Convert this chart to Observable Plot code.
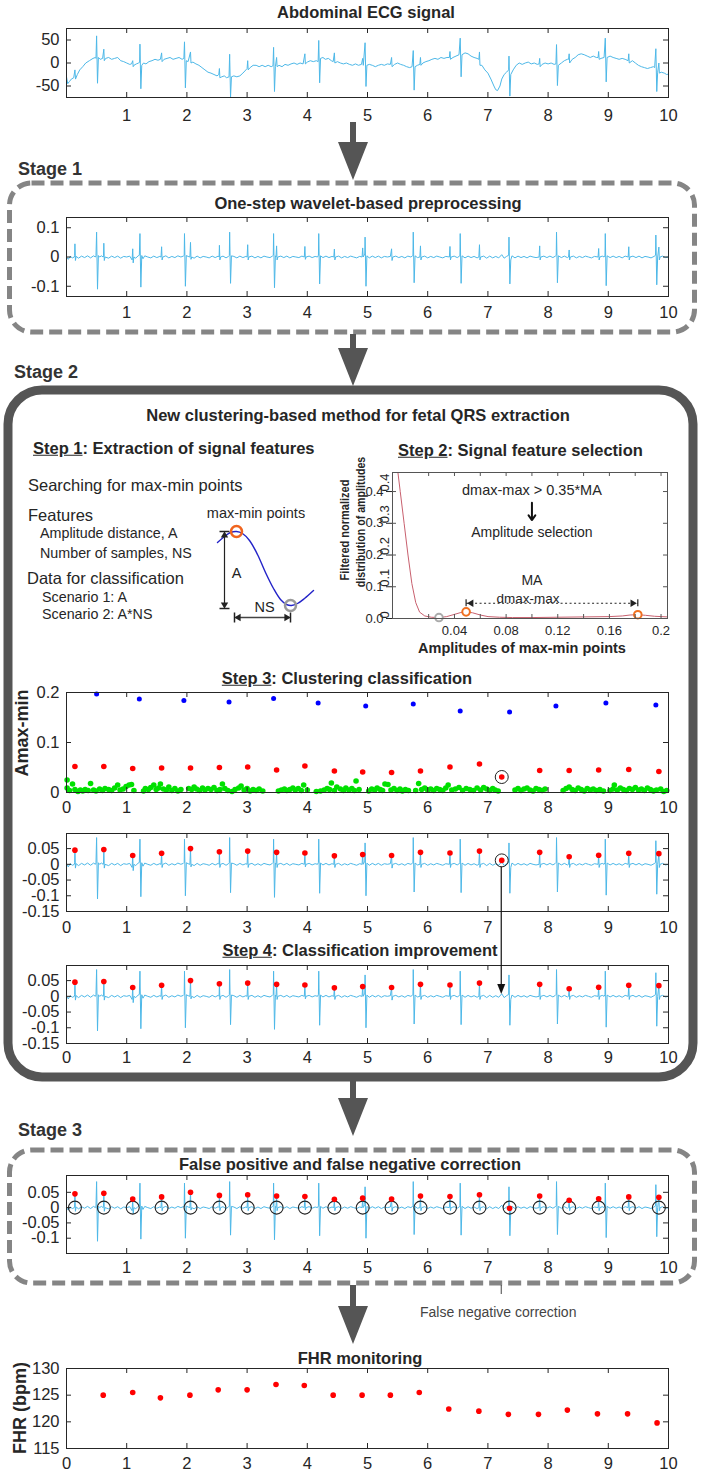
<!DOCTYPE html>
<html><head><meta charset="utf-8">
<script src="https://cdn.jsdelivr.net/npm/d3@7"></script>
<script src="https://cdn.jsdelivr.net/npm/@observablehq/plot@0.6"></script>
<style>
body{margin:0;background:#fff;}
#fig{position:relative;width:701px;height:1479px;background:#fff;font-family:"Liberation Sans",Arial,Helvetica,sans-serif;color:#262626;overflow:hidden;}
.lbl{position:absolute;white-space:nowrap;line-height:1;}
.pl{position:absolute;left:0;}
</style></head><body><div id="fig"></div>
<script>
// ---------------- DATA ----------------
const xTicks0to10 = [0,1,2,3,4,5,6,7,8,9,10];
const xLabels1to10 = [1,2,3,4,5,6,7,8,9,10];
const abdYTicks = [-50,0,50];
const stage1YTicks = [-0.1,0,0.1];
const midYTicks = [-0.15,-0.1,-0.05,0,0.05];
const stage3YTicks = [-0.1,-0.05,0,0.05];
const step3YTicks = [0,0.1,0.2];
const fhrYTicks = [115,120,125,130];
const step2XLabels = [0.04,0.08,0.12,0.16,0.2];
const step2XTicks = [0.02,0.04,0.06,0.08,0.1,0.12,0.14,0.16,0.18,0.2];
const step2YTicks = [0,0.1,0.2,0.3,0.4];

// raw abdominal ECG (time s, amplitude)
const abdominalEcg = [[0,-30],[0.02,-45],[0.05,-40],[0.08,-35],[0.12,-32],[0.14,-15],[0.15,-35],[0.18,-25],[0.22,-15],[0.27,-8],[0.32,0],[0.38,5],[0.44,10],[0.48,12],
[0.49,10],[0.50,59],[0.515,-44],[0.53,12],[0.56,8],[0.6,10],
[0.62,30],[0.628,5],[0.65,10],[0.7,12],[0.75,8],[0.8,10],[0.85,12],[0.9,5],[0.95,3],[1.0,0],[1.05,-3],[1.08,-2],
[1.10,5],[1.108,-8],[1.12,-5],[1.16,-2],[1.2,0],
[1.215,2],[1.22,41],[1.235,-56],[1.25,-5],[1.28,0],[1.32,-2],[1.37,3],[1.42,5],[1.47,8],[1.52,6],[1.56,8],
[1.58,22],[1.588,3],[1.62,8],[1.67,10],[1.72,12],[1.77,8],[1.82,10],[1.87,12],[1.92,8],[1.95,10],
[1.96,46],[1.975,-54],[1.99,5],[2.02,3],
[2.06,24],[2.068,0],[2.1,2],[2.15,-2],[2.2,-5],[2.25,-10],[2.3,-15],[2.35,-20],[2.4,-22],[2.45,-25],[2.5,-28],[2.53,-25],
[2.54,-12],[2.548,-32],[2.58,-30],[2.62,-28],[2.66,-32],[2.7,-30],
[2.71,19],[2.725,-74],[2.74,-30],[2.78,-28],[2.83,-30],[2.88,-28],[2.93,-22],[2.98,-15],[3.0,-12],
[3.01,5],[3.018,-15],[3.05,-10],[3.1,-5],[3.15,-5],[3.2,-8],[3.25,-5],[3.3,-8],[3.35,-5],[3.4,-8],[3.43,-6],
[3.44,34],[3.455,-62],[3.47,-8],
[3.49,12],[3.498,-8],[3.53,-5],[3.58,-8],[3.63,-3],[3.68,-5],[3.73,-2],[3.78,0],[3.83,-3],[3.88,0],[3.93,-2],
[3.96,20],[3.968,-2],[4.0,2],[4.05,5],[4.1,3],[4.15,5],[4.18,3],
[4.19,49],[4.205,-43],[4.22,10],[4.26,12],[4.3,8],[4.35,10],[4.4,5],[4.43,3],
[4.45,22],[4.458,0],[4.5,3],[4.55,0],[4.6,-2],[4.65,0],[4.7,-3],[4.75,-5],[4.8,-2],[4.85,-5],[4.9,-3],
[4.92,10],[4.93,-5],
[4.96,44],[4.975,-51],[4.99,-5],[5.03,-3],[5.08,-5],[5.13,-8],[5.18,-5],[5.23,-3],[5.28,-5],[5.33,-2],[5.38,-3],
[5.40,12],[5.408,-8],[5.45,-3],[5.5,0],[5.55,-3],[5.6,-5],[5.65,-8],[5.7,-10],[5.74,-8],
[5.76,27],[5.775,-59],[5.79,-8],[5.83,-5],[5.87,-3],
[5.88,12],[5.888,-5],[5.92,0],[5.97,3],[6.02,5],[6.07,8],[6.12,10],[6.17,8],[6.22,12],[6.27,10],[6.32,12],[6.36,12],
[6.37,25],[6.378,8],[6.42,12],[6.47,15],[6.52,18],
[6.54,54],[6.555,-30],[6.57,18],[6.62,22],[6.67,20],[6.72,15],[6.77,12],[6.82,10],[6.85,8],
[6.86,24],[6.868,-5],[6.9,-5],[6.95,-15],[7.0,-22],[7.05,-35],[7.1,-50],[7.13,-58],[7.16,-60],[7.2,-50],[7.23,-35],[7.27,-25],[7.31,-20],
[7.345,-15],[7.35,15],[7.365,-72],[7.38,-25],[7.42,-15],[7.47,-5],[7.52,0],[7.57,-3],[7.62,0],[7.67,2],[7.72,-2],[7.77,0],[7.82,-3],[7.85,-2],
[7.86,10],[7.868,-8],[7.9,-3],[7.95,0],[8.0,-2],[8.05,0],[8.1,-3],[8.13,-2],
[8.14,40],[8.155,-49],[8.17,-5],[8.22,0],[8.27,5],[8.32,8],[8.34,8],
[8.35,20],[8.358,0],[8.4,8],[8.45,12],[8.5,18],[8.55,20],[8.6,18],[8.65,15],[8.7,12],[8.75,15],[8.8,12],[8.83,12],
[8.84,25],[8.848,8],[8.88,10],[8.93,12],
[8.95,54],[8.965,-41],[8.98,12],[9.03,15],[9.08,12],[9.13,10],[9.18,8],[9.23,10],[9.28,8],[9.33,5],
[9.34,20],[9.348,0],[9.4,5],[9.45,0],[9.5,-5],[9.55,-8],[9.6,-10],[9.65,-12],[9.7,-10],[9.75,-8],[9.77,-10],
[9.79,31],[9.805,-62],[9.82,-20],
[9.84,0],[9.848,-22],[9.88,-20],[9.93,-22],[9.97,-25],[10.0,-24]];

// preprocessed ECG (time s, amplitude)
const preprocessedEcg = [[0,0.0],[0.03,-0.008],[0.06,0.002],[0.1,-0.003],[0.13,0.0],
[0.135,0.005],[0.14,0.045],[0.148,-0.012],[0.16,0.002],
[0.2,-0.004],[0.25,0.003],[0.3,-0.002],[0.35,0.004],[0.4,-0.003],[0.45,0.004],[0.48,0.0],
[0.49,0.005],[0.50,0.085],[0.515,-0.11],[0.53,0.005],[0.55,0.0],[0.58,0.004],[0.61,0.0],
[0.615,0.004],[0.62,0.047],[0.628,-0.012],[0.64,0.0],
[0.7,-0.004],[0.75,0.003],[0.8,-0.002],[0.85,0.003],[0.9,-0.004],[0.95,0.002],[1.0,0.0],[1.05,0.003],[1.09,-0.01],
[1.10,0.028],[1.108,-0.02],[1.12,0.0],[1.15,-0.004],[1.19,0.004],
[1.21,0.006],[1.22,0.08],[1.235,-0.103],[1.25,0.005],[1.27,-0.006],
[1.3,0.004],[1.35,0.0],[1.4,-0.003],[1.45,0.003],[1.5,-0.002],[1.55,0.002],[1.57,0.0],
[1.58,0.035],[1.588,-0.01],[1.6,0.0],
[1.65,0.004],[1.7,-0.003],[1.75,0.002],[1.8,-0.002],[1.85,0.004],[1.9,0.0],[1.94,0.003],
[1.955,0.006],[1.96,0.08],[1.975,-0.1],[1.99,0.005],[2.02,0.002],[2.05,0.0],
[2.06,0.05],[2.068,-0.008],[2.08,0.0],
[2.12,-0.004],[2.17,0.003],[2.22,-0.003],[2.27,0.002],[2.32,0.0],[2.37,-0.003],[2.42,0.003],[2.47,-0.002],[2.52,0.003],
[2.535,0.0],[2.54,0.04],[2.548,-0.01],[2.56,0.0],[2.6,0.003],[2.65,-0.003],[2.69,0.002],
[2.705,0.005],[2.71,0.085],[2.725,-0.09],[2.74,0.004],
[2.78,0.002],[2.83,-0.003],[2.88,0.003],[2.93,-0.002],[2.98,0.002],[3.0,0.0],
[3.01,0.042],[3.018,-0.01],[3.03,0.0],
[3.08,0.003],[3.13,-0.003],[3.18,0.002],[3.23,-0.003],[3.28,0.003],[3.33,0.0],[3.38,-0.002],[3.42,0.003],
[3.435,0.006],[3.44,0.08],[3.455,-0.105],[3.47,0.004],[3.48,0.0],
[3.49,0.038],[3.498,-0.01],[3.51,0.0],
[3.56,0.003],[3.61,-0.002],[3.66,0.003],[3.71,-0.003],[3.76,0.002],[3.81,0.0],[3.86,-0.002],[3.91,0.003],[3.95,0.0],
[3.96,0.036],[3.968,-0.008],[3.98,0.0],
[4.03,0.003],[4.08,-0.002],[4.13,0.002],[4.17,0.0],
[4.185,0.006],[4.19,0.08],[4.205,-0.092],[4.22,0.004],
[4.26,-0.002],[4.31,0.003],[4.36,-0.002],[4.41,0.002],[4.44,0.0],
[4.45,0.027],[4.458,-0.01],[4.47,0.0],
[4.52,0.003],[4.57,-0.003],[4.62,0.002],[4.67,-0.002],[4.72,0.003],[4.77,0.0],[4.82,-0.003],[4.87,0.002],[4.91,0.0],
[4.92,0.031],[4.928,0.0],
[4.955,0.01],[4.96,0.068],[4.975,-0.1],[4.99,0.004],
[5.03,-0.003],[5.08,0.003],[5.13,-0.002],[5.18,0.003],[5.23,-0.003],[5.28,0.002],[5.33,0.0],[5.38,0.002],
[5.40,0.028],[5.408,-0.012],[5.42,0.0],
[5.47,0.003],[5.52,-0.002],[5.57,0.002],[5.62,-0.003],[5.67,0.003],[5.72,0.0],[5.75,0.004],
[5.755,0.006],[5.76,0.085],[5.775,-0.088],[5.79,0.004],[5.83,-0.002],[5.87,0.0],
[5.88,0.038],[5.888,-0.01],[5.9,0.0],
[5.95,0.003],[6.0,-0.003],[6.05,0.002],[6.1,-0.002],[6.15,0.003],[6.2,0.0],[6.25,-0.003],[6.3,0.002],[6.36,0.0],
[6.37,0.036],[6.378,-0.01],[6.39,0.0],[6.44,0.003],[6.49,-0.002],[6.53,0.003],
[6.535,0.006],[6.54,0.08],[6.555,-0.09],[6.57,0.004],
[6.62,-0.003],[6.67,0.003],[6.72,-0.002],[6.77,0.002],[6.82,-0.003],[6.85,0.0],
[6.86,0.042],[6.868,-0.01],[6.88,0.0],
[6.93,0.003],[6.98,-0.004],[7.03,0.003],[7.08,-0.003],[7.13,0.002],[7.18,-0.003],[7.23,0.008],[7.27,-0.004],[7.31,0.002],
[7.345,0.006],[7.35,0.068],[7.365,-0.092],[7.38,-0.01],[7.40,0.004],
[7.45,-0.003],[7.5,0.003],[7.55,-0.002],[7.6,0.002],[7.65,-0.003],[7.7,0.003],[7.75,0.0],[7.8,-0.002],[7.85,0.0],
[7.86,0.038],[7.868,-0.01],[7.88,0.0],
[7.93,0.003],[7.98,-0.002],[8.03,0.003],[8.08,-0.002],[8.12,0.003],
[8.135,0.006],[8.14,0.085],[8.155,-0.088],[8.17,0.004],
[8.22,-0.002],[8.27,0.003],[8.32,-0.002],[8.34,0.0],
[8.35,0.024],[8.358,-0.01],[8.37,0.0],
[8.42,0.003],[8.47,-0.003],[8.52,0.002],[8.57,-0.002],[8.62,0.003],[8.67,0.0],[8.72,-0.003],[8.77,0.002],[8.83,0.0],
[8.84,0.029],[8.848,-0.01],[8.86,0.0],[8.9,0.003],[8.93,0.0],
[8.945,0.006],[8.95,0.08],[8.965,-0.098],[8.98,0.004],
[9.03,-0.002],[9.08,0.003],[9.13,-0.002],[9.18,0.002],[9.23,-0.003],[9.28,0.003],[9.33,0.0],
[9.34,0.035],[9.348,-0.01],[9.36,0.0],
[9.41,0.003],[9.46,-0.002],[9.51,0.003],[9.56,-0.003],[9.61,0.002],[9.66,0.0],[9.71,-0.003],[9.76,0.002],
[9.785,0.006],[9.79,0.075],[9.805,-0.095],[9.82,0.0],
[9.84,0.034],[9.848,-0.01],[9.86,0.0],[9.9,0.003],[9.95,-0.002],[10.0,0.0]];

// Step 2: filtered normalized distribution of amplitudes
const distCurve = [[-0.005,0.5],[-0.002,0.40],[0.001,0.30],[0.004,0.20],[0.007,0.11],[0.010,0.05],[0.013,0.02],[0.017,0.008],[0.022,0.004],[0.028,0.003],[0.034,0.006],[0.040,0.013],[0.045,0.019],[0.049,0.021],[0.054,0.018],[0.060,0.011],[0.066,0.006],[0.075,0.004],[0.085,0.003],[0.10,0.003],[0.12,0.004],[0.14,0.005],[0.16,0.006],[0.17,0.008],[0.176,0.011],[0.182,0.012],[0.188,0.01],[0.195,0.007],[0.205,0.005]];
const selectedAmps = [[0.049,0.021],[0.182,0.012]];
const rejectedAmps = [[0.028,0.003]];

// Step 3: clustering
const blueT = [0.50,1.21,1.95,2.70,3.44,4.18,4.97,5.76,6.54,7.36,8.13,8.96,9.79];
const blueV = [0.197,0.187,0.184,0.181,0.188,0.179,0.173,0.177,0.163,0.161,0.173,0.179,0.175];
const fetalT = [0.14,0.62,1.10,1.58,2.06,2.54,3.01,3.49,3.96,4.45,4.92,5.40,5.88,6.37,6.86,7.86,8.35,8.84,9.34,9.84];
const step3RedV = [0.052,0.052,0.048,0.049,0.049,0.050,0.051,0.045,0.053,0.043,0.041,0.040,0.043,0.051,0.057,0.044,0.044,0.045,0.046,0.042];
const falseT = 7.23;
const step3FalseV = 0.031;
const greenPts = [[0.01,0.025],[0.01,0.009],[0.05,0.004],[0.10,0.017],[0.14,0.006],[0.19,0.002],[0.23,0.005],[0.27,0.003],[0.31,0.006],[0.36,0.004],[0.40,0.018],[0.45,0.005],[0.49,0.003],[0.55,0.007],[0.60,0.004],[0.64,0.008],[0.70,0.006],[0.75,0.004],[0.80,0.009],[0.85,0.015],[0.89,0.005],[0.94,0.007],[0.99,0.012],[1.04,0.015],[1.08,0.016],[1.12,0.004],
[1.28,0.003],[1.31,0.008],[1.36,0.006],[1.40,0.010],[1.45,0.015],[1.49,0.006],[1.53,0.009],[1.56,0.017],[1.61,0.007],[1.66,0.005],[1.70,0.011],[1.75,0.004],[1.80,0.008],[1.85,0.003],[1.90,0.006],
[2.03,0.008],[2.08,0.006],[2.12,0.011],[2.16,0.007],[2.21,0.004],[2.26,0.009],[2.30,0.005],[2.35,0.008],[2.40,0.006],[2.45,0.010],[2.50,0.004],[2.55,0.006],[2.59,0.017],[2.63,0.008],[2.68,0.004],[2.75,0.002],[2.80,0.006],[2.86,0.009],[2.90,0.013],[2.95,0.005],[3.00,0.008],[3.05,0.003],[3.10,0.006],[3.15,0.004],[3.20,0.007],[3.26,0.003],
[3.52,0.003],[3.57,0.005],[3.62,0.007],[3.66,0.004],[3.71,0.006],[3.76,0.009],[3.80,0.005],[3.85,0.008],[3.90,0.004],[3.94,0.015],[4.00,0.005],
[4.15,0.002],[4.22,0.003],[4.28,0.005],[4.33,0.008],[4.37,0.006],[4.40,0.019],[4.45,0.004],[4.49,0.011],[4.55,0.007],[4.60,0.004],[4.64,0.009],[4.69,0.005],[4.74,0.008],[4.78,0.004],[4.81,0.023],[4.86,0.006],
[5.02,0.003],[5.07,0.007],[5.12,0.005],[5.16,0.009],[5.21,0.006],[5.25,0.004],[5.29,0.017],[5.34,0.016],[5.39,0.005],[5.44,0.008],[5.49,0.004],[5.54,0.007],[5.58,0.003],[5.63,0.006],[5.68,0.004],
[5.80,0.004],[5.85,0.018],[5.90,0.006],[5.95,0.009],[6.00,0.005],[6.05,0.007],[6.10,0.004],[6.15,0.008],[6.20,0.006],[6.25,0.004],[6.30,0.009],[6.34,0.015],[6.40,0.005],[6.46,0.007],[6.52,0.010],[6.58,0.004],[6.64,0.008],[6.70,0.006],[6.76,0.004],[6.82,0.009],[6.88,0.005],[6.93,0.010],[6.98,0.007],[7.03,0.004],[7.08,0.008],[7.12,0.005],[7.17,0.003],
[7.45,0.005],[7.50,0.008],[7.55,0.004],[7.60,0.007],[7.65,0.009],[7.70,0.005],[7.75,0.003],[7.80,0.008],[7.85,0.006],[7.90,0.004],[7.95,0.007],
[8.25,0.004],[8.30,0.008],[8.35,0.011],[8.40,0.006],[8.45,0.004],[8.50,0.009],[8.55,0.006],[8.60,0.003],[8.65,0.008],[8.70,0.005],[8.75,0.007],[8.80,0.004],[8.86,0.006],[8.92,0.003],
[9.03,0.004],[9.08,0.007],[9.10,0.015],[9.15,0.005],[9.20,0.009],[9.25,0.006],[9.30,0.004],[9.35,0.008],[9.40,0.006],[9.45,0.010],[9.50,0.005],[9.55,0.007],[9.60,0.004],[9.65,0.009],[9.70,0.006],[9.75,0.003],[9.80,0.005],[9.87,0.007],[9.92,0.002],[9.97,0.004]];

// detected fetal R peaks on the preprocessed signal
const fetalPeakV = [0.045,0.047,0.028,0.035,0.05,0.04,0.042,0.038,0.036,0.027,0.031,0.028,0.038,0.036,0.042,0.038,0.024,0.029,0.035,0.034];
const midFalseV = 0.0125;
// Stage 3 (false negative recovered at 7.36 s)
const stage3T = [0.14,0.62,1.10,1.58,2.06,2.54,3.01,3.49,3.96,4.45,4.92,5.40,5.88,6.37,6.86,7.36,7.86,8.35,8.84,9.34,9.84];
const stage3V = [0.045,0.047,0.028,0.035,0.05,0.04,0.042,0.038,0.036,0.027,0.031,0.028,0.038,0.036,0.042,-0.002,0.038,0.024,0.029,0.035,0.034];

// FHR
const fhrT = [0.61,1.10,1.56,2.05,2.52,3.00,3.48,3.95,4.43,4.91,5.38,5.86,6.35,6.85,7.34,7.84,8.32,8.82,9.32,9.81];
const fhrV = [125,125.5,124.5,125,126,126,127,126.8,125,125,125,125.5,122.4,122,121.4,121.4,122.2,121.5,121.5,119.8];

// Step 1 schematic (drawing units)
const schemCurve = [[17,27],[24,21],[30,17],[36,16],[42,18],[49,25],[57,39],[65,57],[73,73],[80,84],[86,89],[91,90],[97,88],[104,83],[113,75]];
const schemMax = [[36,16]];
const schemMin = [[90,90]];

// ---------------- HELPERS ----------------
const FONT = '"Liberation Sans", Arial, Helvetica, sans-serif';
const ECG = "#4db8e8";
const AX = "#262626";
const fig = document.getElementById("fig");
const zip = (a, b) => a.map((d, i) => [d, b[i]]);

function place(el, left, top) {
  const w = document.createElement("div");
  w.className = "pl"; w.style.left = left + "px"; w.style.top = top + "px";
  w.appendChild(el); fig.appendChild(w); return el;
}
function label(str, x, y, {size = 16.5, weight = "normal", anchor = "middle", rotate = 0, sx = 1, color = "#262626"} = {}) {
  const d = document.createElement("div");
  d.className = "lbl"; d.innerHTML = str;
  d.style.fontSize = size + "px"; d.style.fontWeight = weight; d.style.color = color;
  d.style.left = x + "px"; d.style.top = y + "px";
  const tx = anchor === "middle" ? "-50%" : anchor === "end" ? "-100%" : "0";
  d.style.transform = `translate(${tx},-50%)` + (rotate ? ` rotate(${rotate}deg)` : "") + (sx !== 1 ? ` scaleX(${sx})` : "");
  if (sx !== 1 && !rotate) d.style.transformOrigin = anchor === "start" ? "left center" : "center";
  fig.appendChild(d); return d;
}
function panel({frameTop, frameH, yDomain, yTicks, xLabels, xTicks = xTicks0to10, marks = [], fontSize = 16.5, xPad = 10, yPad = 7}) {
  const left = 66, right = 668, mt = 6, mb = 36;
  const frameW = right - left;
  const p = Plot.plot({
    width: 701, height: mt + frameH + mb,
    marginTop: mt, marginBottom: mb, marginLeft: left, marginRight: 701 - right,
    style: {fontFamily: FONT, fontSize: fontSize + "px", color: AX, background: "transparent", overflow: "visible"},
    x: {domain: [0, 10]}, y: {domain: yDomain},
    marks: [
      ...marks,
      Plot.frame({stroke: AX, strokeWidth: 1}),
      Plot.tickX(xTicks, {x: d => d, insetTop: frameH - 5, stroke: AX}),
      Plot.tickX(xTicks, {x: d => d, insetBottom: frameH - 5, stroke: AX}),
      Plot.tickY(yTicks, {y: d => d, insetRight: frameW - 5, stroke: AX}),
      Plot.tickY(yTicks, {y: d => d, insetLeft: frameW - 5, stroke: AX}),
      Plot.axisX({ticks: xLabels, tickSize: 0, tickPadding: xPad, tickFormat: d => String(d), label: null, fontSize}),
      Plot.axisY({ticks: yTicks, tickSize: 0, tickPadding: yPad, tickFormat: d => String(d), label: null, fontSize})
    ]
  });
  place(p, 0, frameTop - mt);
  return {plot: p, top: frameTop - mt};
}
const ecgLine = (sig) => Plot.line(sig, {x: d => d[0], y: d => d[1], stroke: ECG, strokeWidth: 1, clip: true});

// ---------------- PANELS ----------------
// Abdominal ECG
panel({frameTop: 28, frameH: 69, yDomain: [-75, 75], yTicks: abdYTicks, xLabels: xLabels1to10, xPad: 12,
  marks: [ecgLine(abdominalEcg)]});
// Stage 1
panel({frameTop: 217, frameH: 79, yDomain: [-0.135, 0.135], yTicks: stage1YTicks, xLabels: xLabels1to10,
  marks: [ecgLine(preprocessedEcg)]});
// Step 3 clustering
const fetalPts = zip(fetalT, step3RedV);
panel({frameTop: 692, frameH: 100, yDomain: [0, 0.2], yTicks: step3YTicks, xLabels: xTicks0to10, xPad: 9,
  marks: [
    Plot.dot(greenPts, {x: d => d[0], y: d => d[1], r: 2.8, fill: "#00e000"}),
    Plot.dot(zip(blueT, blueV), {x: d => d[0], y: d => d[1], r: 2.5, fill: "#0000ff"}),
    Plot.dot(fetalPts, {x: d => d[0], y: d => d[1], r: 2.8, fill: "#ff0000"}),
    Plot.dot([[falseT, step3FalseV]], {x: d => d[0], y: d => d[1], r: 2.8, fill: "#ff0000"}),
    Plot.dot([[falseT, step3FalseV]], {x: d => d[0], y: d => d[1], r: 6.5, stroke: "#222", strokeWidth: 1})
  ]});
// Step 3 signal with detections
const mid = panel({frameTop: 833, frameH: 78, yDomain: [-0.15, 0.098], yTicks: midYTicks, xLabels: xTicks0to10,
  marks: [
    ecgLine(preprocessedEcg),
    Plot.dot(zip(fetalT, fetalPeakV), {x: d => d[0], y: d => d[1], r: 2.8, fill: "#ff0000"}),
    Plot.dot([[falseT, midFalseV]], {x: d => d[0], y: d => d[1], r: 2.8, fill: "#ff0000"}),
    Plot.dot([[falseT, midFalseV]], {x: d => d[0], y: d => d[1], r: 6.5, stroke: "#222", strokeWidth: 1})
  ]});
// Step 4
const step4 = panel({frameTop: 965, frameH: 78, yDomain: [-0.15, 0.098], yTicks: midYTicks, xLabels: xTicks0to10, xPad: 8,
  marks: [
    ecgLine(preprocessedEcg),
    Plot.dot(zip(fetalT, fetalPeakV), {x: d => d[0], y: d => d[1], r: 2.8, fill: "#ff0000"})
  ]});
// Stage 3
panel({frameTop: 1175, frameH: 78, yDomain: [-0.15, 0.105], yTicks: stage3YTicks, xLabels: xLabels1to10, xPad: 8,
  marks: [
    ecgLine(preprocessedEcg),
    Plot.dot(stage3T, {x: d => d, y: () => 0, r: 6.5, stroke: "#222", strokeWidth: 1.1}),
    Plot.dot(zip(stage3T, stage3V), {x: d => d[0], y: d => d[1], r: 2.8, fill: "#ff0000"})
  ]});
// FHR
panel({frameTop: 1368, frameH: 80, yDomain: [115, 130], yTicks: fhrYTicks, xLabels: xTicks0to10, xPad: 9,
  marks: [Plot.dot(zip(fhrT, fhrV), {x: d => d[0], y: d => d[1], r: 2.8, fill: "#ff0000"})]});

// Step 2 distribution plot
{
  const left = 392, right = 667, frameTop = 472, frameH = 146, mt = 4, mb = 40;
  const frameW = right - left;
  const p = Plot.plot({
    width: 701, height: mt + frameH + mb,
    marginTop: mt, marginBottom: mb, marginLeft: left, marginRight: 701 - right,
    style: {fontFamily: FONT, fontSize: "13px", color: AX, background: "transparent", overflow: "visible"},
    x: {domain: [-0.008, 0.205]}, y: {domain: [0, 0.46]},
    marks: [
      Plot.line(distCurve, {x: d => d[0], y: d => d[1], stroke: "#c8606e", strokeWidth: 1, clip: true}),
      Plot.dot(rejectedAmps, {x: d => d[0], y: d => d[1], r: 3.8, stroke: "#aaaaaa", strokeWidth: 2, fill: "white"}),
      Plot.dot(selectedAmps, {x: d => d[0], y: d => d[1], r: 3.8, stroke: "#f07020", strokeWidth: 2, fill: "white"}),
      Plot.text(["dmax-max > 0.35*MA"], {x: 0.1, y: 0.405, text: d => d, fontSize: 14.5}),
      Plot.arrow([[0.1, 0.365, 0.1, 0.31]], {x1: d => d[0], y1: d => d[1], x2: d => d[2], y2: d => d[3], stroke: "#111", strokeWidth: 2, headLength: 10, headAngle: 70}),
      Plot.text(["Amplitude selection"], {x: 0.1, y: 0.27, text: d => d, fontSize: 14}),
      Plot.text(["MA"], {x: 0.1, y: 0.12, text: d => d, fontSize: 14}),
      Plot.text(["dmax-max"], {x: 0.097, y: 0.064, text: d => d, fontSize: 13.5}),
      Plot.link([[0.049, 0.182]], {x1: d => d[0], x2: d => d[1], y1: 0.048, y2: 0.048, stroke: "#222", strokeDasharray: "2 2.5", strokeWidth: 1}),
      Plot.ruleX([0.049, 0.182], {x: d => d, y1: 0.037, y2: 0.059, stroke: "#222", strokeWidth: 1.2}),
      Plot.dot([[0.053, 0.048, -90], [0.178, 0.048, 90]], {x: d => d[0], y: d => d[1], rotate: d => d[2], symbol: "triangle2", r: 3.5, fill: "#222"}),
      Plot.frame({stroke: "#555", strokeWidth: 1}),
      Plot.tickX(step2XTicks, {x: d => d, insetTop: frameH - 4, stroke: "#555"}),
      Plot.tickX(step2XTicks, {x: d => d, insetBottom: frameH - 4, stroke: "#555"}),
      Plot.tickY(step2YTicks, {y: d => d, insetRight: frameW - 4, stroke: "#555"}),
      Plot.tickY(step2YTicks, {y: d => d, insetLeft: frameW - 4, stroke: "#555"}),
      Plot.axisX({ticks: step2XLabels, tickSize: 0, tickPadding: 7, tickFormat: d => String(d), label: null, fontSize: 13}),
      Plot.text(step2YTicks, {y: d => d, text: d => String(d), frameAnchor: "left", dx: -8, rotate: -90, fontSize: 13})
    ]
  });
  place(p, 0, frameTop - mt);
}

// Step 1 schematic
{
  const p = Plot.plot({
    width: 125, height: 112, margin: 0,
    style: {fontFamily: FONT, background: "transparent", overflow: "visible"},
    x: {domain: [0, 125], axis: null}, y: {domain: [112, 0], axis: null},
    marks: [
      Plot.line(schemCurve, {x: d => d[0], y: d => d[1], stroke: "#2323c8", strokeWidth: 1.4, curve: "catmull-rom"}),
      Plot.link([[24, 18, 24, 91]], {x1: d => d[0], y1: d => d[1], x2: d => d[2], y2: d => d[3], stroke: "#222", strokeWidth: 1.2}),
      Plot.link([[19, 16, 29, 16], [19, 93, 29, 93], [34, 97, 34, 107], [90, 97, 90, 107]], {x1: d => d[0], y1: d => d[1], x2: d => d[2], y2: d => d[3], stroke: "#222", strokeWidth: 1.5}),
      Plot.link([[35, 102, 89, 102]], {x1: d => d[0], y1: d => d[1], x2: d => d[2], y2: d => d[3], stroke: "#444", strokeWidth: 1.5}),
      Plot.dot([[24, 20, 0], [24, 89, 180], [38, 102, -90], [86, 102, 90]], {x: d => d[0], y: d => d[1], rotate: d => d[2], symbol: "triangle2", r: 3.5, fill: "#222"}),
      Plot.dot(schemMax, {x: d => d[0], y: d => d[1], r: 5.5, stroke: "#f0641e", strokeWidth: 2.5, fill: "none"}),
      Plot.dot(schemMin, {x: d => d[0], y: d => d[1], r: 5.5, stroke: "#9a9a9a", strokeWidth: 2.5, fill: "none"}),
      Plot.text(["A"], {x: 36, y: 58, text: d => d, fontSize: 14.5, fill: "#222"}),
      Plot.text(["NS"], {x: 64, y: 92, text: d => d, fontSize: 14.5, fill: "#222"})
    ]
  });
  place(p, 200, 515);
}

// ---------------- TEXT ----------------
label("Abdominal ECG signal", 366, 12, {weight: "bold"});
label("Stage 1", 18, 169, {size: 18, weight: "bold", anchor: "start", color: "#333"});
label("One-step wavelet-based preprocessing", 368, 203, {weight: "bold"});
label("Stage 2", 14, 372, {size: 18, weight: "bold", anchor: "start", color: "#333"});
label("New clustering-based method for fetal QRS extraction", 358, 415, {weight: "bold"});
label("<u>Step 1</u>: Extraction of signal features", 33, 448, {weight: "bold", anchor: "start"});
label("<u>Step 2</u>: Signal feature selection", 398, 450, {weight: "bold", anchor: "start"});
label("Searching for max-min points", 28, 485, {anchor: "start"});
label("Features", 28, 515, {anchor: "start"});
label("Amplitude distance, A", 40, 533, {size: 14.3, anchor: "start"});
label("Number of samples, NS", 40, 553, {size: 14.3, anchor: "start"});
label("Data for classification", 27, 578, {anchor: "start"});
label("Scenario 1: A", 42, 597, {size: 14.3, anchor: "start"});
label("Scenario 2: A*NS", 42, 614, {size: 14.3, anchor: "start"});
label("max-min points", 256, 513, {size: 14.5});
label("Amplitudes of max-min points", 522, 648, {size: 14.5, weight: "bold"});
label("Filtered normalized", 345, 530, {size: 12.5, weight: "bold", rotate: -90, sx: 0.88});
label("distribution of amplitudes", 361, 522, {size: 12.5, weight: "bold", rotate: -90, sx: 0.85});
label("<u>Step 3</u>: Clustering classification", 347, 678, {weight: "bold"});
label("Amax-min", 22, 733, {size: 18, weight: "bold", rotate: -90});
label("<u>Step 4</u>: Classification improvement", 360, 950, {weight: "bold"});
label("Stage 3", 18, 1130, {size: 18, weight: "bold", anchor: "start", color: "#333"});
label("False positive and false negative correction", 350, 1164, {weight: "bold"});
label("False negative correction", 420, 1312, {size: 14, anchor: "start", color: "#444"});
label("FHR monitoring", 360, 1358, {weight: "bold"});
label("FHR (bpm)", 20, 1408, {size: 18, weight: "bold", rotate: -90});

// ---------------- DECORATION (boxes, arrows) ----------------
const ov = d3.select(fig).append("svg").attr("width", 701).attr("height", 1479)
  .style("position", "absolute").style("left", 0).style("top", 0).style("pointer-events", "none");
ov.append("rect").attr("x", 9.5).attr("y", 183).attr("width", 685).attr("height", 149).attr("rx", 22)
  .attr("fill", "none").attr("stroke", "#858585").attr("stroke-width", 5).attr("stroke-dasharray", "13 6");
ov.append("rect").attr("x", 8).attr("y", 390).attr("width", 685).attr("height", 687).attr("rx", 34)
  .attr("fill", "none").attr("stroke", "#555").attr("stroke-width", 9);
ov.append("rect").attr("x", 9.5).attr("y", 1150).attr("width", 685).attr("height", 133).attr("rx", 22)
  .attr("fill", "none").attr("stroke", "#858585").attr("stroke-width", 5).attr("stroke-dasharray", "13 6");
function bigArrow(x, y0, y1) {
  const hl = 38, hw = 15, sw = 3;
  ov.append("path").attr("fill", "#555")
    .attr("d", `M${x - sw},${y0}L${x + sw},${y0}L${x + sw},${y1 - hl}L${x + hw},${y1 - hl}L${x},${y1}L${x - hw},${y1 - hl}L${x - sw},${y1 - hl}Z`);
}
bigArrow(353, 122, 180);
bigArrow(353, 334, 386);
bigArrow(353, 1081, 1136);
bigArrow(353, 1285, 1344);
// false-positive pointer from classification panel into step 4
{
  const xs = mid.plot.scale("x"), ys = mid.plot.scale("y"), ys4 = step4.plot.scale("y");
  const x = xs.apply(falseT);
  const yA = mid.top + ys.apply(midFalseV) + 6.5;
  const yB = step4.top + ys4.apply(0.006);
  ov.append("line").attr("x1", x).attr("x2", x).attr("y1", yA).attr("y2", yB - 8).attr("stroke", "#111").attr("stroke-width", 1.2);
  ov.append("path").attr("fill", "#111").attr("d", `M${x - 4},${yB - 10}L${x + 4},${yB - 10}L${x},${yB}Z`);
  ov.append("line").attr("x1", x).attr("x2", x).attr("y1", 1285).attr("y2", 1294).attr("stroke", "#444").attr("stroke-width", 1);
}
</script></body></html>
